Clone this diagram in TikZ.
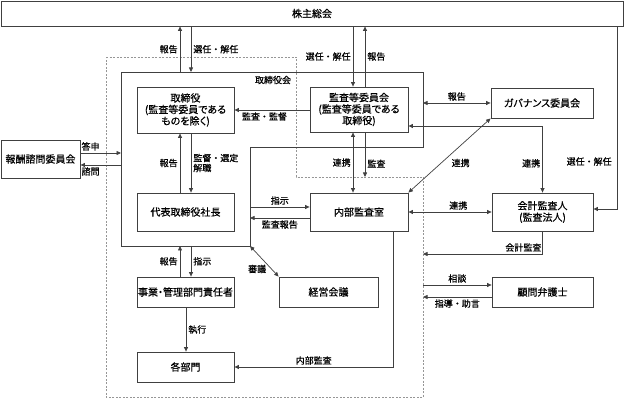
\documentclass[tikz,border=0pt]{standalone}
\usepackage{fontspec}
\setmainfont{Noto Sans CJK JP}[FakeBold=0.6]
\newfontfamily\boxjp[RawFeature=+palt, FakeBold=0.6]{Noto Sans CJK JP}
\usetikzlibrary{arrows.meta}
\definecolor{lineg}{RGB}{64,64,64}
\definecolor{dashg}{RGB}{150,150,150}
\tikzset{
  box/.style={draw=lineg, line width=0.8pt, fill=white, inner sep=0pt, align=center,
    minimum width=97pt, minimum height=30pt, font=\boxjp\fontsize{10}{11.5}\selectfont},
  lbl/.style={font=\fontsize{9}{10}\selectfont, inner sep=2pt},
  arr/.style={draw=lineg, line width=0.7pt, -{Triangle[length=4.5pt,width=4pt]}},
  biarr/.style={draw=lineg, line width=0.7pt,
    {Triangle[length=4.5pt,width=4pt]}-{Triangle[length=4.5pt,width=4pt]}},
}
\begin{document}
\begin{tikzpicture}[x=1pt, y=-1pt]
    \useasboundingbox (0,0) rectangle (624,398);
    % dashed frame
    \coordinate (dz-nw) at (106,57);
    \coordinate (dz-n) at (296,57);
    \coordinate (dz-m) at (296,177);
    \coordinate (dz-e) at (423,177);
    \coordinate (dz-se) at (423,397);
    \coordinate (dz-sw) at (106,397);
    \draw[dashg, line width=0.6pt, dash pattern=on 2pt off 1.5pt]
        (dz-nw) -- (dz-n) -- (dz-m) -- (dz-e) -- (dz-se) -- (dz-sw) -- cycle;
    % board frame
    \coordinate (bd-nw) at (121,72);
    \coordinate (bd-ne) at (423,72);
    \coordinate (bd-e) at (423,147);
    \coordinate (bd-in) at (250,147);
    \coordinate (bd-se) at (250,246);
    \coordinate (bd-sw) at (121,246);
    \draw[lineg, line width=0.8pt]
        (bd-nw) -- (bd-ne) -- (bd-e) -- (bd-in) -- (bd-se) -- (bd-sw) -- cycle;
    \node[lbl] (bdlabel) at (273,80) {取締役会};

    \node[box, minimum width=622pt, minimum height=25pt] (sh) at (312,13.5) {株主総会};
    \node[box, minimum height=46pt] (tori) at (185.5,110) {取締役\\(監査等委員である\\ものを除く)};
    \node[box, minimum width=98pt, minimum height=45pt] (kansa) at (359,109.5) {監査等委員会\\(監査等委員である\\取締役)};
    \node[box, minimum width=102pt] (gov) at (542,103) {ガバナンス委員会};
    \node[box, minimum width=79pt, minimum height=38pt] (hoshu) at (40.5,159) {報酬諮問委員会};
    \node[box, minimum height=38pt] (ceo) at (185.5,212) {代表取締役社長};
    \node[box, minimum width=98pt, minimum height=38pt] (naibu) at (359,212) {内部監査室};
    \node[box, minimum width=101pt, minimum height=38pt] (kaikei) at (542.5,212) {会計監査人\\(監査法人)};
    \node[box] (jigyo) at (185.5,292) {事業・管理部門責任者};
    \node[box, minimum width=99pt] (keiei) at (328.5,292) {経営会議};
    \node[box, minimum width=101pt] (komon) at (542.5,292) {顧問弁護士};
    \node[box] (bumon) at (185.5,367) {各部門};

    \draw[arr] (bd-nw -| 180,0) -- (sh.south -| 180,0) node[lbl, midway, left] {報告};
    \draw[arr] (sh.south -| 191,0) -- (bd-nw -| 191,0) node[lbl, midway, right] {選任・解任};
    \draw[arr] (sh.south -| 353,0) -- (kansa.north -| 353,0) node[lbl, midway, left] {選任・解任};
    \draw[arr] (kansa.north -| 365,0) -- (sh.south -| 365,0) node[lbl, midway, right] {報告};
    \draw[arr] (kansa.west |- 0,110) -- (tori.east |- 0,110) node[lbl, pos=0.6, below] {監査・監督};
    \draw[arr] (hoshu.east |- 0,153) -- (bd-sw |- 0,153) node[lbl, pos=0.25, above] {答申};
    \draw[arr] (bd-sw |- 0,165) -- (hoshu.east |- 0,165) node[lbl, pos=0.75, below] {諮問};
    \draw[arr] (ceo.north -| 180,0) -- (tori.south -| 180,0) node[lbl, midway, left] {報告};
    \draw[arr] (tori.south -| 191,0) -- (ceo.north -| 191,0)
        node[lbl, midway, right, align=left] {監督・選定\\解職};
    \draw[arr] (bd-se |- 0,207) -- (naibu.west |- 0,207) node[lbl, midway, above] {指示};
    \draw[arr] (naibu.west |- 0,218) -- (bd-se |- 0,218) node[lbl, midway, below] {監査報告};
    \draw[biarr] (kansa.south -| 353,0) -- (naibu.north -| 353,0) node[lbl, midway, left] {連携};
    \draw[arr] (kansa.south -| 365,0) -- (dz-m -| 365,0) node[lbl, pos=0.7, right] {監査};
    \draw[biarr] (bd-ne |- gov.west) -- (gov.west) node[lbl, midway, above] {報告};
    \draw[biarr] (kansa.east |- 0,126) -| (kaikei.north) node[lbl, pos=0.78, left] {連携};
    \draw[biarr] (naibu.north east) -- (gov.south west) node[lbl, pos=0.4, right=8pt] {連携};
    \draw[biarr] (naibu.east) -- (kaikei.west) node[lbl, pos=0.6, above] {連携};
    \draw[arr] (sh.south -| 617,0) |- (kaikei.east |- 0,209) node[lbl, pos=0.37, left=3pt] {選任・解任};
    \draw[arr] (kaikei.south) |- (dz-e |- 0,254) node[lbl, pos=0.58, above] {会計監査};
    \draw[arr] (dz-e |- 0,285) -- (komon.west |- 0,285) node[lbl, midway, above] {相談};
    \draw[arr] (komon.west |- 0,297) -- (dz-e |- 0,297) node[lbl, midway, below] {指導・助言};
    \draw[arr] (jigyo.north -| 180,0) -- (bd-sw -| 180,0) node[lbl, midway, left] {報告};
    \draw[arr] (bd-sw -| 191,0) -- (jigyo.north -| 191,0) node[lbl, midway, right] {指示};
    \draw[biarr] (bd-se) -- (keiei.north west) node[lbl, pos=0.75, left=3pt] {審議};
    \draw[arr] (jigyo.south -| 186,0) -- (bumon.north -| 186,0) node[lbl, midway, right] {執行};
    \draw[arr] (naibu.south -| 393,0) |- (bumon.east) node[lbl, pos=0.75, above] {内部監査};
\end{tikzpicture}
\end{document}
